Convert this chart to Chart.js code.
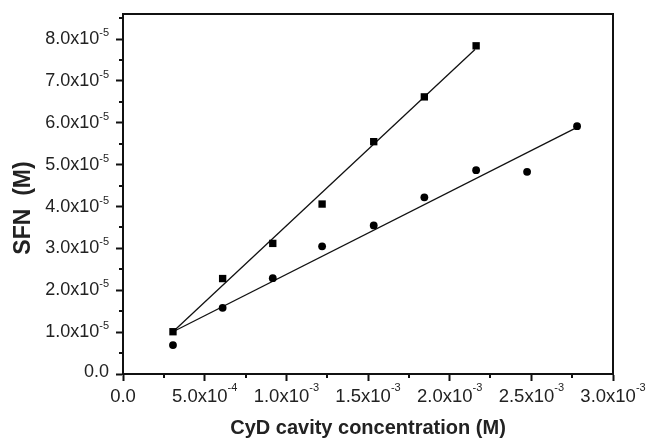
<!DOCTYPE html>
<html>
<head>
<meta charset="utf-8">
<script src="https://cdn.jsdelivr.net/npm/chart.js@4/dist/chart.umd.min.js"></script>
<style>
  html, body { margin: 0; padding: 0; background: #ffffff; }
  #wrap { width: 647px; height: 442px; position: relative; }
</style>
</head>
<body>
<div id="wrap"><canvas id="c" width="647" height="442"></canvas></div>
<script>
// ---- data ----
const cydConc = [0.306e-3, 0.61e-3, 0.917e-3, 1.219e-3, 1.535e-3, 1.845e-3, 2.162e-3, 2.474e-3, 2.78e-3];
const sfnSquares = [1.01e-5, 2.28e-5, 3.12e-5, 4.06e-5, 5.55e-5, 6.62e-5, 7.84e-5];
const sfnCircles = [0.69e-5, 1.58e-5, 2.29e-5, 3.05e-5, 3.55e-5, 4.22e-5, 4.87e-5, 4.83e-5, 5.92e-5];
const fitSquaresX = [0.306e-3, 2.155e-3];
const fitSquaresY = [1.01e-5, 7.75e-5];
const fitCirclesX = [0.306e-3, 2.78e-3];
const fitCirclesY = [1.01e-5, 5.89e-5];

const xTickValues = [0, 0.5e-3, 1.0e-3, 1.5e-3, 2.0e-3, 2.5e-3, 3.0e-3];
const xTickLabels = ['0.0', '5.0x10^-4', '1.0x10^-3', '1.5x10^-3', '2.0x10^-3', '2.5x10^-3', '3.0x10^-3'];
const yTickValues = [0, 1e-5, 2e-5, 3e-5, 4e-5, 5e-5, 6e-5, 7e-5, 8e-5];
const yTickLabels = ['0.0', '1.0x10^-5', '2.0x10^-5', '3.0x10^-5', '4.0x10^-5', '5.0x10^-5', '6.0x10^-5', '7.0x10^-5', '8.0x10^-5'];
const xMinorValues = [0.25e-3, 0.75e-3, 1.25e-3, 1.75e-3, 2.25e-3, 2.75e-3];
const yMinorValues = [0.5e-5, 1.5e-5, 2.5e-5, 3.5e-5, 4.5e-5, 5.5e-5, 6.5e-5, 7.5e-5, 8.5e-5];

const xTitle = 'CyD cavity concentration (M)';
const yTitle = 'SFN  (M)';

// ---- helpers ----
const FONT = "'Liberation Sans', Arial, sans-serif";
const TEXT = '#222222';
const INK = '#111111';

function pairs(xs, ys) { return ys.map((v, i) => ({ x: xs[i], y: v })); }

function drawSupLabel(ctx, label, px, py, mode, size, supSize, raise) {
  const parts = label.split('^');
  const main = parts[0], sup = parts[1] || '';
  ctx.font = size + 'px ' + FONT;
  const wm = ctx.measureText(main).width;
  ctx.font = supSize + 'px ' + FONT;
  const ws = sup ? ctx.measureText(sup).width : 0;
  const total = wm + ws;
  const start = mode === 'center' ? px - total / 2 : px - total;
  ctx.textAlign = 'left';
  ctx.textBaseline = 'middle';
  ctx.fillStyle = TEXT;
  ctx.font = size + 'px ' + FONT;
  ctx.fillText(main, start, py);
  if (sup) {
    ctx.font = supSize + 'px ' + FONT;
    ctx.fillText(sup, start + wm, py - raise);
  }
}

const decorPlugin = {
  id: 'decor',
  afterDraw(chart) {
    const { ctx, chartArea: a, scales } = chart;
    const x = scales.x, y = scales.y;
    ctx.save();
    ctx.strokeStyle = INK;
    ctx.lineWidth = 2;
    // top and right frame
    ctx.beginPath();
    ctx.moveTo(a.left - 1, a.top);
    ctx.lineTo(a.right, a.top);
    ctx.lineTo(a.right, a.bottom + 1);
    ctx.stroke();
    // minor ticks
    ctx.beginPath();
    xMinorValues.forEach(v => {
      const px = Math.round(x.getPixelForValue(v));
      ctx.moveTo(px, a.bottom);
      ctx.lineTo(px, a.bottom + 4);
    });
    yMinorValues.forEach(v => {
      const py = Math.round(y.getPixelForValue(v));
      ctx.moveTo(a.left, py);
      ctx.lineTo(a.left - 4, py);
    });
    ctx.stroke();
    // tick labels
    xTickValues.forEach((v, i) => {
      drawSupLabel(ctx, xTickLabels[i], x.getPixelForValue(v), a.bottom + 23, 'center', 18.5, 11, 9);
    });
    yTickValues.forEach((v, i) => {
      drawSupLabel(ctx, yTickLabels[i], a.left - 14, y.getPixelForValue(v) - (v === 0 ? 2 : 0), 'right', 18, 11, 6);
    });
    // y axis title
    ctx.save();
    ctx.translate(24, 208);
    ctx.rotate(-Math.PI / 2);
    ctx.font = 'bold 23px ' + FONT;
    ctx.fillStyle = TEXT;
    ctx.textAlign = 'center';
    ctx.textBaseline = 'middle';
    ctx.fillText(yTitle, 0, 0);
    ctx.restore();
    ctx.restore();
  }
};

new Chart(document.getElementById('c'), {
  type: 'scatter',
  data: {
    datasets: [
      {
        label: 'squares',
        data: pairs(cydConc, sfnSquares),
        pointStyle: 'rect',
        pointRadius: 5.2,
        pointBackgroundColor: '#000',
        pointBorderColor: '#000',
        pointBorderWidth: 0,
        showLine: false
      },
      {
        label: 'circles',
        data: pairs(cydConc, sfnCircles),
        pointStyle: 'circle',
        pointRadius: 3.9,
        pointBackgroundColor: '#000',
        pointBorderColor: '#000',
        pointBorderWidth: 0,
        showLine: false
      },
      {
        label: 'fit squares',
        data: pairs(fitSquaresX, fitSquaresY),
        showLine: true,
        pointRadius: 0,
        borderColor: '#111',
        borderWidth: 1.3,
        fill: false
      },
      {
        label: 'fit circles',
        data: pairs(fitCirclesX, fitCirclesY),
        showLine: true,
        pointRadius: 0,
        borderColor: '#111',
        borderWidth: 1.3,
        fill: false
      }
    ]
  },
  options: {
    responsive: false,
    animation: false,
    devicePixelRatio: 1,
    layout: { padding: { top: 14, right: 34, left: 0, bottom: 0 } },
    plugins: {
      legend: { display: false },
      tooltip: { enabled: false }
    },
    scales: {
      x: {
        type: 'linear',
        min: 0,
        max: 3.0e-3,
        afterBuildTicks: s => { s.ticks = xTickValues.map(v => ({ value: v })); },
        afterFit: s => { s.height = 68; },
        ticks: { display: false },
        grid: { display: true, drawOnChartArea: false, drawTicks: true, tickLength: 7, tickWidth: 2, tickColor: INK },
        border: { display: true, width: 2, color: INK },
        title: {
          display: true,
          text: xTitle,
          color: TEXT,
          font: { family: FONT, size: 20, weight: 'bold' },
          padding: { top: 0, bottom: 2 }
        }
      },
      y: {
        type: 'linear',
        min: 0,
        max: 8.6e-5,
        afterBuildTicks: s => { s.ticks = yTickValues.map(v => ({ value: v })); },
        afterFit: s => { s.width = 123; },
        ticks: { display: false },
        grid: { display: true, drawOnChartArea: false, drawTicks: true, tickLength: 7, tickWidth: 2, tickColor: INK },
        border: { display: true, width: 2, color: INK },
        title: { display: false }
      }
    }
  },
  plugins: [decorPlugin]
});
</script>
</body>
</html>
